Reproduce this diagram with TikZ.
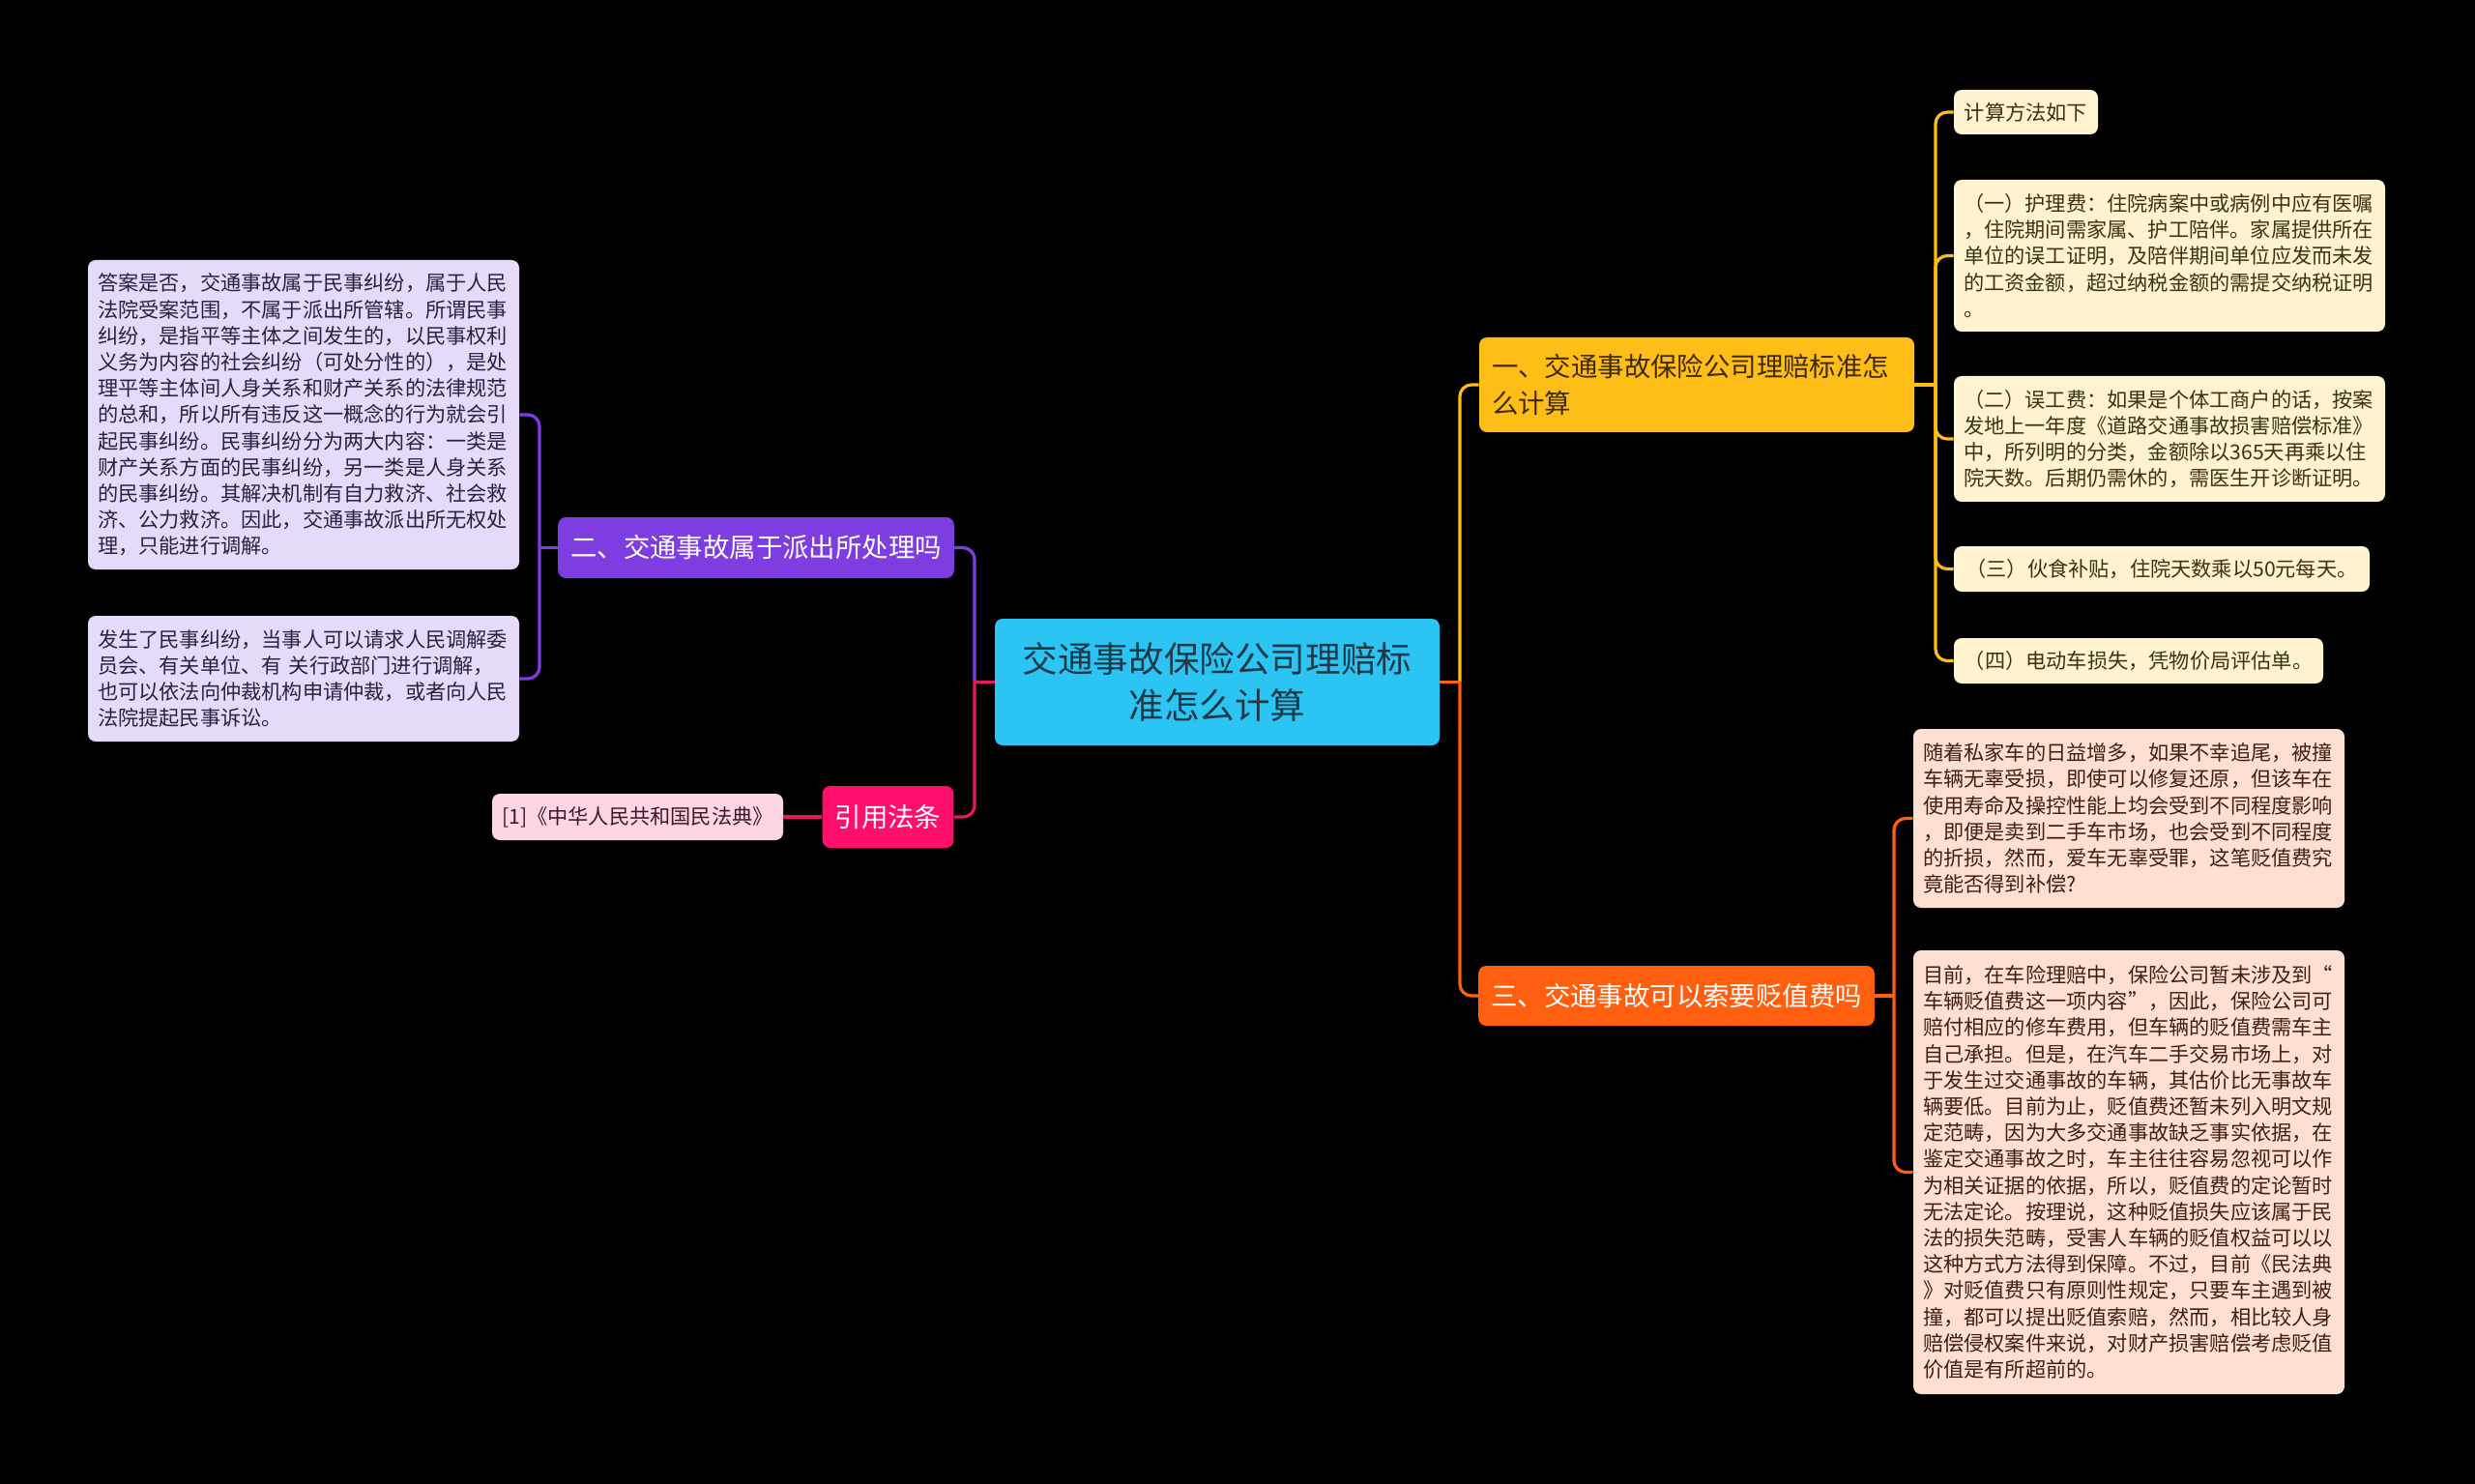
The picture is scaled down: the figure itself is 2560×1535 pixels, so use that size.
\documentclass[tikz,border=0pt]{standalone}
\usepackage{fontspec}
\setmainfont{Noto Sans CJK SC}
\usepackage{xcolor}
\usetikzlibrary{positioning}

\definecolor{rootblue}{HTML}{2BC4F3}
\definecolor{rootink}{HTML}{1D3947}
\definecolor{amber}{HTML}{FFBD17}
\definecolor{amberink}{HTML}{3B2A05}
\definecolor{ember}{HTML}{FF5F0E}
\definecolor{grape}{HTML}{7D3DE0}
\definecolor{rose}{HTML}{FF0F6B}
\definecolor{roseline}{HTML}{E8185F}
\definecolor{lavender}{HTML}{E6DAF9}
\definecolor{lavink}{HTML}{2C1F45}
\definecolor{cream}{HTML}{FFF3D0}
\definecolor{creamink}{HTML}{3B3210}
\definecolor{peach}{HTML}{FDE0D2}
\definecolor{peachink}{HTML}{3F1F10}
\definecolor{blush}{HTML}{FFD4E3}
\definecolor{blushink}{HTML}{3A1A28}

\begin{document}
\begin{tikzpicture}[
  x=0.5pt, y=-0.5pt,
  box/.style={rounded corners=4pt, align=left, inner ysep=0pt},
  root/.style={box, fill=rootblue, text=rootink, align=center, inner xsep=0pt,
               font=\fontsize{18.3}{23.7}\selectfont},
  topic/.style={box, inner xsep=6.5pt, font=\fontsize{13.7}{18.8}\selectfont},
  leaf/.style={box, inner xsep=5pt, font=\fontsize{10.6}{13.6}\selectfont},
  link/.style={line width=1.6pt, rounded corners=6pt}
]
  \fill[black] (0,0) rectangle (2560,1535);

  \node[root, minimum width=230pt, minimum height=65.5pt] (root) at (1259,705.5)
    {交通事故保险公司理赔标\\准怎么计算};

  \node[topic, fill=amber, text=amberink, text width=212pt, minimum height=49pt]
    (calc) at (1755,398) {一、交通事故保险公司理赔标准怎\\么计算};
  \node[topic, fill=grape, text=white, align=center, minimum width=204pt,
        minimum height=31.5pt] (police) at (782,566.5) {二、交通事故属于派出所处理吗};
  \node[topic, fill=ember, text=white, align=center, minimum width=204pt,
        minimum height=31pt] (depr) at (1734,1030) {三、交通事故可以索要贬值费吗};
  \node[topic, fill=rose, text=white, align=center, minimum width=67.5pt,
        minimum height=32pt] (cite) at (918.5,845) {引用法条};

  \node[leaf, fill=blush, text=blushink, align=center, minimum width=150.5pt,
        minimum height=24pt] (code) at (659.5,845) {[1]《中华人民共和国民法典》};

  \node[leaf, fill=lavender, text=lavink, text width=213pt, minimum height=160pt]
    (civil) at (314,429)
    {答案是否，交通事故属于民事纠纷，属于人民\\法院受案范围，不属于派出所管辖。所谓民事\\纠纷，是指平等主体之间发生的，以民事权利\\义务为内容的社会纠纷（可处分性的），是处\\理平等主体间人身关系和财产关系的法律规范\\的总和，所以所有违反这一概念的行为就会引\\起民事纠纷。民事纠纷分为两大内容：一类是\\财产关系方面的民事纠纷，另一类是人身关系\\的民事纠纷。其解决机制有自力救济、社会救\\济、公力救济。因此，交通事故派出所无权处\\理，只能进行调解。};
  \node[leaf, fill=lavender, text=lavink, text width=213pt, minimum height=65pt]
    (mediate) at (314,702)
    {发生了民事纠纷，当事人可以请求人民调解委\\员会、有关单位、有 关行政部门进行调解，\\也可以依法向仲裁机构申请仲裁，或者向人民\\法院提起民事诉讼。};

  \node[leaf, fill=cream, text=creamink, align=center, minimum width=74.5pt,
        minimum height=23pt] (intro) at (2095.5,116) {计算方法如下};
  \node[leaf, fill=cream, text=creamink, text width=213pt, minimum height=78.5pt]
    (nurse) at (2244,264.5)
    {（一）护理费：住院病案中或病例中应有医嘱\\，住院期间需家属、护工陪伴。家属提供所在\\单位的误工证明，及陪伴期间单位应发而未发\\的工资金额，超过纳税金额的需提交纳税证明\\。};
  \node[leaf, fill=cream, text=creamink, text width=213pt, minimum height=65pt]
    (wage) at (2244,454)
    {（二）误工费：如果是个体工商户的话，按案\\发地上一年度《道路交通事故损害赔偿标准》\\中，所列明的分类，金额除以365天再乘以住\\院天数。后期仍需休的，需医生开诊断证明。};
  \node[leaf, fill=cream, text=creamink, align=center, minimum width=215pt,
        minimum height=23.5pt] (meal) at (2236,588.5) {（三）伙食补贴，住院天数乘以50元每天。};
  \node[leaf, fill=cream, text=creamink, align=center, minimum width=191pt,
        minimum height=23.5pt] (ebike) at (2212,683.5) {（四）电动车损失，凭物价局评估单。};

  \node[leaf, fill=peach, text=peachink, text width=213pt, minimum height=92.5pt]
    (worth) at (2202,846.5)
    {随着私家车的日益增多，如果不幸追尾，被撞\\车辆无辜受损，即使可以修复还原，但该车在\\使用寿命及操控性能上均会受到不同程度影响\\，即便是卖到二手车市场，也会受到不同程度\\的折损，然而，爱车无辜受罪，这笔贬值费究\\竟能否得到补偿?};
  \node[leaf, fill=peach, text=peachink, text width=213pt, minimum height=229.5pt]
    (rule) at (2202,1212.5)
    {目前，在车险理赔中，保险公司暂未涉及到“\\车辆贬值费这一项内容”，因此，保险公司可\\赔付相应的修车费用，但车辆的贬值费需车主\\自己承担。但是，在汽车二手交易市场上，对\\于发生过交通事故的车辆，其估价比无事故车\\辆要低。目前为止，贬值费还暂未列入明文规\\定范畴，因为大多交通事故缺乏事实依据，在\\鉴定交通事故之时，车主往往容易忽视可以作\\为相关证据的依据，所以，贬值费的定论暂时\\无法定论。按理说，这种贬值损失应该属于民\\法的损失范畴，受害人车辆的贬值权益可以以\\这种方式方法得到保障。不过，目前《民法典\\》对贬值费只有原则性规定，只要车主遇到被\\撞，都可以提出贬值索赔，然而，相比较人身\\赔偿侵权案件来说，对财产损害赔偿考虑贬值\\价值是有所超前的。};

  \coordinate (rootR) at (1510,705.5);
  \coordinate (rootL) at (1008,705.5);
  \coordinate (calcJ) at (2002,398);
  \coordinate (deprJ) at (1959,1030);
  \coordinate (policeJ) at (558,566.5);

  \draw[link, draw=amber] (rootR) |- (calc.west);
  \draw[link, draw=ember] (rootR) |- (depr.west);
  \draw[link, draw=ember] (root.east) -- (rootR);
  \draw[link, draw=grape] (rootL) |- (police.east);
  \draw[link, draw=roseline] (rootL) |- (cite.east);
  \draw[link, draw=roseline] (root.west) -- (rootL);

  \draw[link, draw=grape] (police.west) -- (policeJ);
  \foreach \n in {civil,mediate}
    \draw[link, draw=grape] (policeJ) |- (\n.east);
  \draw[link, draw=roseline] (cite.west) -- (code.east);

  \draw[link, draw=amber] (calc.east) -- (calcJ);
  \foreach \n in {intro,nurse,wage,meal,ebike}
    \draw[link, draw=amber] (calcJ) |- (\n.west);
  \draw[link, draw=ember] (depr.east) -- (deprJ);
  \foreach \n in {worth,rule}
    \draw[link, draw=ember] (deprJ) |- (\n.west);
\end{tikzpicture}
\end{document}
